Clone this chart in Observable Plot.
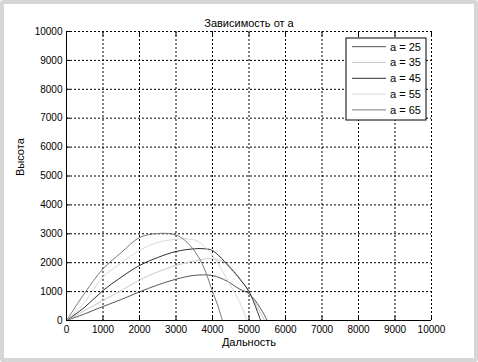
<!DOCTYPE html>
<html>
<head>
<meta charset="utf-8">
<script src="https://cdn.jsdelivr.net/npm/d3@7"></script>
<script src="https://cdn.jsdelivr.net/npm/@observablehq/plot@0.6"></script>
<style>
  html, body { margin: 0; padding: 0; background: #fff; }
  #wrap { position: relative; width: 478px; height: 362px; overflow: hidden; }
  #frame { position: absolute; left: 0; top: 0; width: 478px; height: 362px; box-sizing: border-box;
           border: 4px solid #d6d6d6; border-radius: 3px; pointer-events: none; }
</style>
</head>
<body>
<div id="wrap"><div id="frame"></div></div>
<script>
const titleText = "Зависимость от а";
const xLabel = "Дальность";
const yLabel = "Высота";
const xTicks = [0, 1000, 2000, 3000, 4000, 5000, 6000, 7000, 8000, 9000, 10000];
const yTicks = [0, 1000, 2000, 3000, 4000, 5000, 6000, 7000, 8000, 9000, 10000];

const angles = [25, 35, 45, 55, 65];
const colors = ["#555555", "#c8c8c8", "#2e2e2e", "#d8d8d8", "#7a7a7a"];

const a25X = [0, 500, 1000, 1500, 2000, 2500, 3000, 3500, 4000, 4400, 4750, 5000, 5300, 5500];
const a25Y = [0, 230, 484, 727, 990, 1230, 1430, 1560, 1557, 1360, 1080, 930, 450, 0];
const a35X = [0, 500, 1000, 1500, 2000, 2500, 3000, 3500, 4000, 4400, 4750, 5000, 5300, 5430];
const a35Y = [0, 346, 692, 1038, 1400, 1680, 1903, 2060, 2134, 1961, 1460, 981, 300, 0];
const a45X = [0, 500, 1000, 1500, 2000, 2500, 3000, 3500, 3800, 4000, 4500, 4750, 5000, 5320];
const a45Y = [0, 461, 1038, 1500, 1903, 2180, 2388, 2480, 2480, 2422, 1800, 1430, 1000, 0];
const a55X = [0, 500, 1000, 1500, 2000, 2500, 3000, 3300, 3600, 4000, 4300, 4500, 4750, 4950];
const a55Y = [0, 634, 1500, 1995, 2422, 2700, 2810, 2820, 2740, 2250, 1650, 1200, 620, 0];
const a65X = [0, 500, 1000, 1500, 2000, 2500, 3000, 3300, 3600, 3800, 4000, 4150, 4270];
const a65Y = [0, 950, 1790, 2350, 2870, 3010, 2960, 2710, 2230, 1720, 1000, 500, 0];

const seriesX = [a25X, a35X, a45X, a55X, a65X];
const seriesY = [a25Y, a35Y, a45Y, a55Y, a65Y];
const rows = [];
angles.forEach((a, i) => seriesX[i].forEach((x, j) => rows.push({a: `a = ${a}`, x, y: seriesY[i][j]})));
const names = angles.map(a => `a = ${a}`);
const fmt = d => String(d);

const plot = Plot.plot({
  width: 478, height: 362,
  marginLeft: 66, marginRight: 47, marginTop: 31, marginBottom: 42,
  style: {fontFamily: "'Liberation Sans', Arial, sans-serif", fontSize: "10px", background: "transparent", color: "#000"},
  x: {domain: [0, 10000], label: null},
  y: {domain: [0, 10000], label: null},
  color: {domain: names, range: colors},
  marks: [
    Plot.gridX(xTicks, {stroke: "#000", strokeOpacity: 1, strokeDasharray: "2,2", strokeWidth: 1}),
    Plot.gridY(yTicks, {stroke: "#000", strokeOpacity: 1, strokeDasharray: "2,2", strokeWidth: 1}),
    Plot.line(rows, {x: "x", y: "y", z: "a", stroke: "a", strokeWidth: 1, curve: "catmull-rom", clip: true}),
    Plot.ruleX([0], {stroke: "#000"}),
    Plot.ruleY([0], {stroke: "#000"}),
    Plot.axisX(xTicks, {anchor: "bottom", tickSize: -4, tickPadding: 9, fontSize: 10, tickFormat: fmt, label: null}),
    Plot.axisX(xTicks, {anchor: "top", tickSize: -4, tickFormat: () => "", label: null}),
    Plot.axisY(yTicks, {anchor: "left", tickSize: -4, tickPadding: 8, fontSize: 10, tickFormat: fmt, label: null}),
    Plot.text([titleText], {frameAnchor: "top", dy: -12, fontSize: 11}),
    Plot.text([xLabel], {frameAnchor: "bottom", dy: 25, fontSize: 11}),
    Plot.text([yLabel], {frameAnchor: "left", dx: -46, rotate: -90, fontSize: 11})
  ]
});

// legend inside the plot area (top right)
const svg = d3.select(plot);
const lg = svg.append("g").attr("transform", "translate(346,38)");
lg.append("rect").attr("width", 80).attr("height", 82).attr("fill", "#fff").attr("stroke", "#000").attr("stroke-width", 1);
names.forEach((n, i) => {
  const yy = 8.7 + i * 15.8;
  lg.append("line").attr("x1", 6).attr("x2", 40).attr("y1", yy).attr("y2", yy)
    .attr("stroke", colors[i]).attr("stroke-width", 1);
  lg.append("text").attr("x", 44).attr("y", yy).attr("dy", "0.35em").attr("text-anchor", "start")
    .attr("font-size", 11).attr("font-family", "'Liberation Sans', Arial, sans-serif").text(n);
});

document.getElementById("wrap").insertBefore(plot, document.getElementById("frame"));
</script>
</body>
</html>
